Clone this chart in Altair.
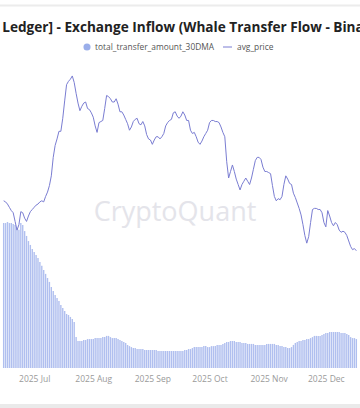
import altair as alt
import pandas as pd

# ---- data ----
dates = pd.date_range("2025-06-15", periods=186, freq="D").strftime("%Y-%m-%d").tolist()

flow_30dma = [
    59.6, 59.6, 60.0, 59.6, 59.6, 59.2, 58.8, 57.6, 56.8, 59.6,
    58.8, 56.3, 54.3, 52.2, 50.6, 48.9, 47.7, 46.5, 45.2, 43.6,
    42.0, 40.3, 38.7, 37.0, 35.4, 33.3, 31.7, 30.0, 28.8, 27.6,
    25.9, 24.7, 23.4, 22.2, 21.8, 21.0, 20.1, 18.9, 12.7, 11.1,
    11.1, 11.1, 11.5, 11.5, 11.9, 11.9, 11.9, 11.9, 12.3, 12.3,
    12.3, 12.3, 12.7, 12.7, 13.2, 13.2, 12.7, 12.3, 12.3, 12.3,
    11.9, 11.5, 11.1, 10.7, 10.3, 9.5, 9.0, 8.6, 8.2, 8.2,
    7.8, 7.8, 7.8, 7.8, 7.4, 7.4, 7.4, 7.4, 7.4, 7.4,
    7.4, 7.0, 7.0, 7.0, 7.0, 7.0, 7.0, 7.0, 7.0, 7.0,
    7.0, 7.0, 7.0, 7.0, 7.0, 7.4, 7.4, 7.8, 7.8, 8.2,
    8.6, 8.6, 8.6, 8.6, 8.6, 9.0, 9.0, 8.6, 8.6, 9.0,
    9.0, 9.0, 9.5, 9.5, 9.5, 9.9, 10.3, 10.7, 10.7, 11.1,
    11.1, 11.1, 10.7, 10.7, 10.7, 10.3, 10.3, 10.3, 9.9, 9.9,
    9.9, 9.9, 9.5, 9.5, 9.5, 9.5, 9.5, 9.5, 9.9, 9.9,
    9.9, 9.9, 9.9, 9.5, 9.5, 9.0, 9.0, 8.6, 8.6, 8.2,
    8.2, 8.6, 9.5, 10.3, 10.7, 11.1, 11.1, 11.5, 11.5, 11.9,
    11.9, 12.3, 12.7, 13.2, 13.2, 13.2, 13.2, 13.6, 14.0, 14.4,
    14.4, 14.8, 14.8, 14.8, 14.8, 14.8, 14.8, 14.4, 14.4, 14.4,
    14.0, 13.6, 12.7, 12.3, 12.3, 11.9,
]

avg_price = [
    2.34, 2.33, 2.31, 2.28, 2.25, 2.23, 2.15, 2.07, 2.12, 2.24,
    2.23, 2.18, 2.15, 2.20, 2.24, 2.26, 2.28, 2.30, 2.31, 2.33,
    2.34, 2.33, 2.38, 2.42, 2.48, 2.57, 2.74, 2.85, 2.91, 2.98,
    2.98, 3.10, 3.26, 3.41, 3.44, 3.46, 3.49, 3.43, 3.33, 3.24,
    3.17, 3.21, 3.24, 3.25, 3.19, 3.18, 3.15, 3.11, 3.03, 2.97,
    3.06, 3.07, 3.08, 3.19, 3.31, 3.30, 3.28, 3.25, 3.25, 3.28,
    3.23, 3.16, 3.16, 3.13, 3.09, 3.05, 2.99, 3.02, 3.07, 3.09,
    3.10, 3.05, 3.04, 3.07, 3.03, 2.95, 2.91, 2.90, 2.86, 2.90,
    2.93, 2.93, 2.91, 2.93, 2.96, 3.03, 3.06, 3.08, 3.09, 3.15,
    3.16, 3.12, 3.10, 3.12, 3.16, 3.13, 3.08, 3.08, 2.99, 2.96,
    2.97, 2.93, 2.88, 2.86, 2.89, 2.93, 2.96, 2.99, 3.06, 3.08,
    3.08, 3.07, 3.07, 3.06, 3.02, 2.97, 2.93, 2.70, 2.55, 2.61,
    2.67, 2.61, 2.54, 2.49, 2.44, 2.49, 2.52, 2.55, 2.52, 2.49,
    2.55, 2.63, 2.71, 2.74, 2.74, 2.72, 2.65, 2.61, 2.61, 2.60,
    2.59, 2.48, 2.38, 2.34, 2.36, 2.35, 2.38, 2.49, 2.57, 2.54,
    2.50, 2.49, 2.41, 2.37, 2.32, 2.27, 2.21, 2.12, 2.02, 1.95,
    2.01, 2.14, 2.26, 2.27, 2.27, 2.26, 2.26, 2.23, 2.14, 2.10,
    2.25, 2.20, 2.14, 2.11, 2.14, 2.12, 2.07, 2.05, 2.06, 2.05,
    2.02, 1.97, 1.92, 1.89, 1.90, 1.88,
]

title_text = ["[XRP Ledger] - Exchange Inflow (Whale Transfer Flow - Binance)"]
legend_labels = ["total_transfer_amount_30DMA", "avg_price"]
watermark_text = ["CryptoQuant"]

# ---- styling ----
BAR_COLOR = "#b0bfef"
LINE_COLOR = "#7a7dd2"
FONT = "Open Sans"
W, H = 360, 304
PT, PB = 64, 40

df = pd.DataFrame({"date": dates, "flow": flow_30dma, "price": avg_price})

x_enc = alt.X(
    "date:T",
    scale=alt.Scale(
        type="utc",
        domain=[
            alt.DateTime(year=2025, month=6, date=15, hours=16, minutes=48, utc=True),
            alt.DateTime(year=2025, month=12, date=16, hours=7, minutes=12, utc=True),
        ],
    ),
    axis=alt.Axis(
        title=None,
        format="%Y %b",
        tickCount={"interval": "month", "step": 1},
        domain=False,
        ticks=False,
        grid=False,
        labelColor="#9a9a9a",
        labelFontSize=8.5,
        labelFont=FONT,
        labelPadding=6,
        labelFlush=False,
        labelOverlap=False,
    ),
)

bars = alt.Chart(df).mark_bar(size=1.4, color=BAR_COLOR, clip=True).encode(
    x=x_enc,
    y=alt.Y("flow:Q", scale=alt.Scale(domain=[0, 125], nice=False), axis=None),
)

line = alt.Chart(df).mark_line(color=LINE_COLOR, strokeWidth=1, clip=True).encode(
    x=x_enc,
    y=alt.Y("price:Q", scale=alt.Scale(domain=[0.8, 3.6], nice=False, zero=False), axis=None),
)

wm = alt.Chart(pd.DataFrame({"t": watermark_text})).mark_text(
    font=FONT, fontSize=27, color="#e4e4ea", align="center", baseline="middle"
).encode(text="t:N", x=alt.value(175), y=alt.value(213 - PT))

title = alt.Chart(pd.DataFrame({"t": title_text})).mark_text(
    font=FONT, fontSize=13.6, fontWeight="bold", color="#222222", align="center", baseline="middle"
).encode(text="t:N", x=alt.value(180), y=alt.value(28 - PT))

leg_dot = alt.Chart(pd.DataFrame({"t": [legend_labels[0]]})).mark_point(
    filled=True, size=50, color="#9aaeea", opacity=1
).encode(x=alt.value(87), y=alt.value(47 - PT))

leg_t1 = alt.Chart(pd.DataFrame({"t": [legend_labels[0]]})).mark_text(
    font=FONT, fontSize=8.4, color="#555555", align="left", baseline="middle"
).encode(text="t:N", x=alt.value(95), y=alt.value(47 - PT))

leg_line = alt.Chart(pd.DataFrame({"t": [legend_labels[1]]})).mark_rule(
    color=LINE_COLOR, strokeWidth=1
).encode(x=alt.value(223), x2=alt.value(232), y=alt.value(47 - PT))

leg_t2 = alt.Chart(pd.DataFrame({"t": [legend_labels[1]]})).mark_text(
    font=FONT, fontSize=8.4, color="#555555", align="left", baseline="middle"
).encode(text="t:N", x=alt.value(237), y=alt.value(47 - PT))

top_rule = alt.Chart(pd.DataFrame({"t": ["top"]})).mark_rule(
    color="#ececec", strokeWidth=2
).encode(x=alt.value(0), x2=alt.value(W), y=alt.value(5.5 - PT))

bottom_band = alt.Chart(pd.DataFrame({"t": ["bottom"]})).mark_rect(
    color="#eaeaea"
).encode(x=alt.value(0), x2=alt.value(W), y=alt.value(404 - PT), y2=alt.value(408 - PT))

chart = (
    alt.layer(wm, bars, line, title, leg_dot, leg_t1, leg_line, leg_t2, top_rule, bottom_band)
    .resolve_scale(y="independent")
    .properties(
        width=W,
        height=H,
        padding={"top": PT, "bottom": PB, "left": 0, "right": 0},
        autosize=alt.AutoSizeParams(type="none"),
        background="white",
    )
    .configure_view(stroke=None)
)

chart.save("out.html", embed_options={"renderer": "svg", "actions": False})
